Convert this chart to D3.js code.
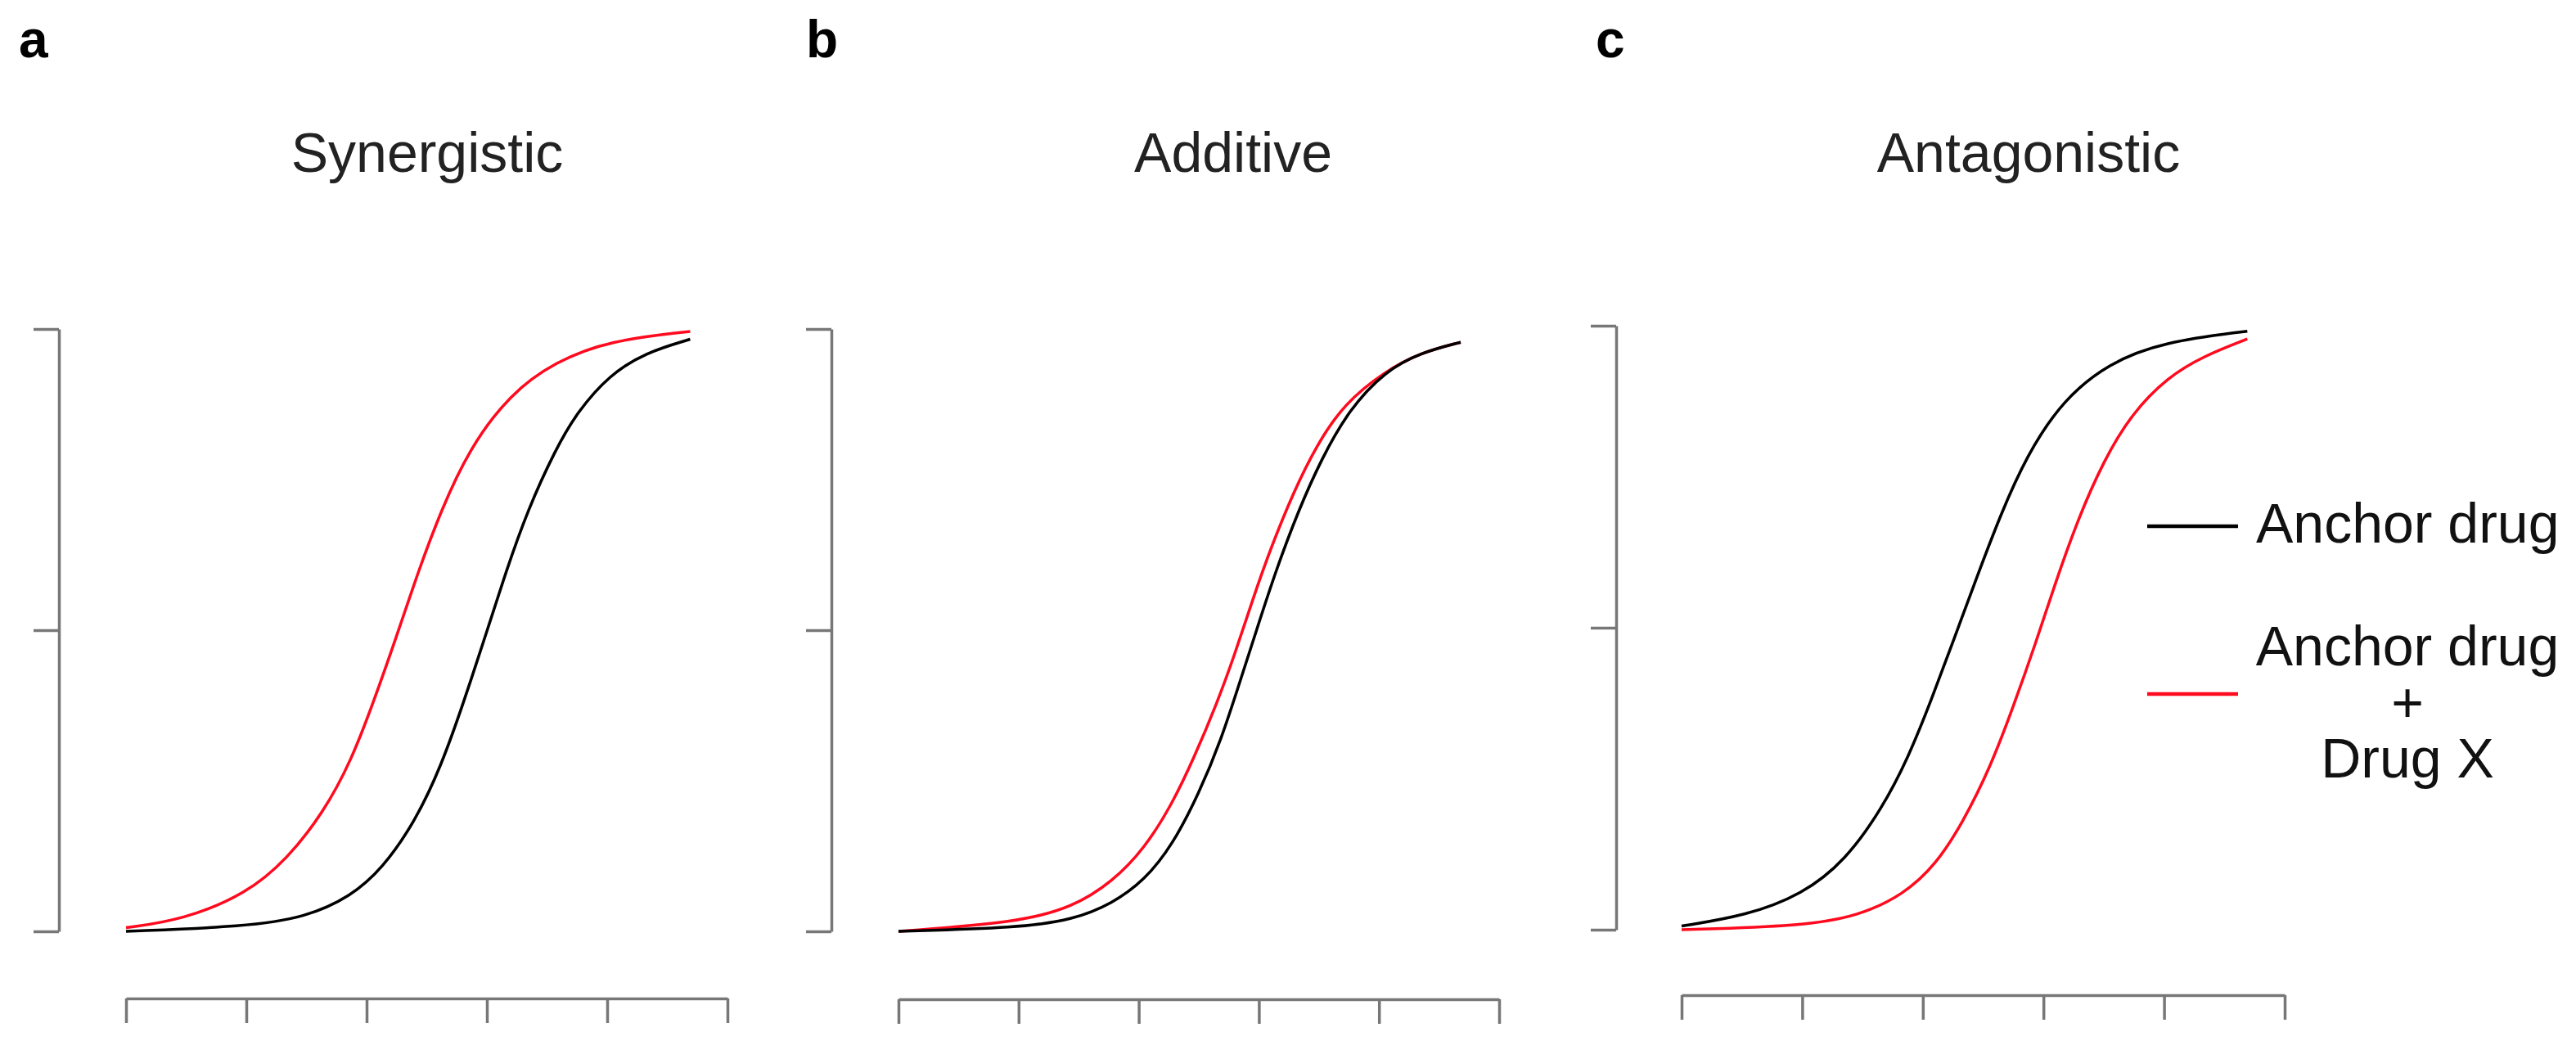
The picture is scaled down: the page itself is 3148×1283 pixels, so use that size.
<!DOCTYPE html>
<html>
<head>
<meta charset="utf-8">
<script src="https://cdn.jsdelivr.net/npm/d3@7"></script>
<style>
  body { margin: 0; background: #fff; }
  svg { display: block; font-family: "Liberation Sans", Arial, sans-serif; }
</style>
</head>
<body>
<svg width="3148" height="1283"></svg>
<script>
// dose (in x-tick units) vs. response
const synergisticAnchor = [[0,0],[1,0.008],[1.49,0.023],[1.87,0.058],[2.13,0.104],[2.4,0.181],[2.62,0.274],[2.81,0.382],[3.0,0.498],[3.16,0.598],[3.34,0.7],[3.57,0.8],[3.75,0.862],[4.02,0.924],[4.32,0.961],[4.69,0.983]];
const synergisticCombo  = [[0,0.006],[0.47,0.019],[1.0,0.062],[1.34,0.12],[1.64,0.197],[1.87,0.282],[2.06,0.382],[2.25,0.49],[2.43,0.598],[2.62,0.699],[2.85,0.8],[3.19,0.892],[3.57,0.946],[4.02,0.981],[4.69,0.996]];

const additiveAnchor = [[0,0],[1,0.006],[1.45,0.019],[1.78,0.046],[2.05,0.085],[2.28,0.143],[2.5,0.228],[2.69,0.32],[2.84,0.413],[2.99,0.506],[3.14,0.598],[3.33,0.699],[3.52,0.784],[3.75,0.866],[4.05,0.93],[4.35,0.961],[4.68,0.978]];
const additiveCombo  = [[0,0],[1,0.015],[1.45,0.04],[1.78,0.082],[2.05,0.138],[2.28,0.212],[2.46,0.288],[2.65,0.378],[2.8,0.46],[2.95,0.552],[3.1,0.637],[3.29,0.73],[3.48,0.807],[3.71,0.876],[4.05,0.93],[4.35,0.961],[4.68,0.978]];

const antagonisticAnchor = [[0,0.006],[0.53,0.023],[1.0,0.058],[1.36,0.115],[1.66,0.2],[1.88,0.285],[2.07,0.38],[2.26,0.482],[2.45,0.585],[2.64,0.685],[2.86,0.785],[3.16,0.877],[3.54,0.938],[3.99,0.973],[4.69,0.991]];
const antagonisticCombo  = [[0,0],[1,0.006],[1.47,0.023],[1.84,0.058],[2.11,0.108],[2.33,0.177],[2.56,0.269],[2.75,0.369],[2.94,0.477],[3.09,0.569],[3.28,0.677],[3.5,0.777],[3.73,0.854],[4.03,0.915],[4.33,0.95],[4.69,0.978]];

const panelLetters = ["a", "b", "c"];
const panelTitles = ["Synergistic", "Additive", "Antagonistic"];
const xTicks = [0, 1, 2, 3, 4, 5];
const yTicks = [0, 0.5, 1];
const legendLabels = ["Anchor drug", ["Anchor drug", "+", "Drug X"]];

const anchorColor = "#000000";
const comboColor = "#ff0a1e";
const axisColor = "#777777";

const svg = d3.select("svg");

// page layout for the three panels
const panels = [
  { anchor: synergisticAnchor, combo: synergisticCombo, x0: 154, x1: 889, yAxisX: 72, yTop: 402, yBot: 1138, xAxisY: 1220, titleX: 522, letterX: 23 },
  { anchor: additiveAnchor, combo: additiveCombo, x0: 1098, x1: 1832, yAxisX: 1016, yTop: 402, yBot: 1138, xAxisY: 1221, titleX: 1507, letterX: 985 },
  { anchor: antagonisticAnchor, combo: antagonisticCombo, x0: 2055, x1: 2792, yAxisX: 1975, yTop: 398, yBot: 1136, xAxisY: 1216, titleX: 2479, letterX: 1950 }
];

panels.forEach((p, i) => {
  const x = d3.scaleLinear().domain([0, 5]).range([p.x0, p.x1]);
  const y = d3.scaleLinear().domain([0, 1]).range([p.yBot, p.yTop]);

  const g = svg.append("g");

  // y axis: ticks pointing left, no labels
  const yAxis = g.append("g")
    .attr("transform", `translate(${p.yAxisX},0)`)
    .call(d3.axisLeft(y).tickValues(yTicks).tickSize(31).tickSizeOuter(0).tickFormat(""));

  // x axis sits below the plot, ticks pointing down
  const xAxis = g.append("g")
    .attr("transform", `translate(0,${p.xAxisY})`)
    .call(d3.axisBottom(x).tickValues(xTicks).tickSize(30).tickSizeOuter(0).tickFormat(""));

  [yAxis, xAxis].forEach(ax => {
    ax.selectAll("path, line").attr("stroke", axisColor).attr("stroke-width", 3.5);
  });

  // basis spline smooths out the small reading errors in the points
  const line = d3.line()
    .x(d => x(d[0]))
    .y(d => y(d[1]))
    .curve(d3.curveBasis);

  // combo first in a/b so black sits on top where they overlap
  const curves = i === 2 ? [[p.anchor, anchorColor], [p.combo, comboColor]]
                         : [[p.combo, comboColor], [p.anchor, anchorColor]];
  curves.forEach(([data, color]) => {
    g.append("path")
      .datum(data)
      .attr("fill", "none")
      .attr("stroke", color)
      .attr("stroke-width", 3.5)
      .attr("d", line);
  });

  g.append("text")
    .attr("x", p.titleX)
    .attr("y", 210)
    .attr("text-anchor", "middle")
    .attr("font-size", 68)
    .attr("fill", "#222")
    .text(panelTitles[i]);

  g.append("text")
    .attr("x", p.letterX)
    .attr("y", 70)
    .attr("font-size", 64)
    .attr("font-weight", "bold")
    .attr("fill", "#000")
    .text(panelLetters[i]);
});

// legend, to the right of panel c
const legend = svg.append("g");

legend.append("line")
  .attr("x1", 2624).attr("x2", 2735)
  .attr("y1", 643).attr("y2", 643)
  .attr("stroke", anchorColor).attr("stroke-width", 4.5);

legend.append("text")
  .attr("x", 2757).attr("y", 663)
  .attr("font-size", 68).attr("fill", "#111")
  .text(legendLabels[0]);

legend.append("line")
  .attr("x1", 2624).attr("x2", 2735)
  .attr("y1", 848).attr("y2", 848)
  .attr("stroke", comboColor).attr("stroke-width", 4.5);

legend.append("text")
  .attr("font-size", 68).attr("fill", "#111")
  .attr("text-anchor", "middle")
  .selectAll("tspan")
  .data(legendLabels[1])
  .join("tspan")
  .attr("x", 2942)
  .attr("y", (d, j) => 813 + j * 68.5)
  .text(d => d);
</script>
</body>
</html>
